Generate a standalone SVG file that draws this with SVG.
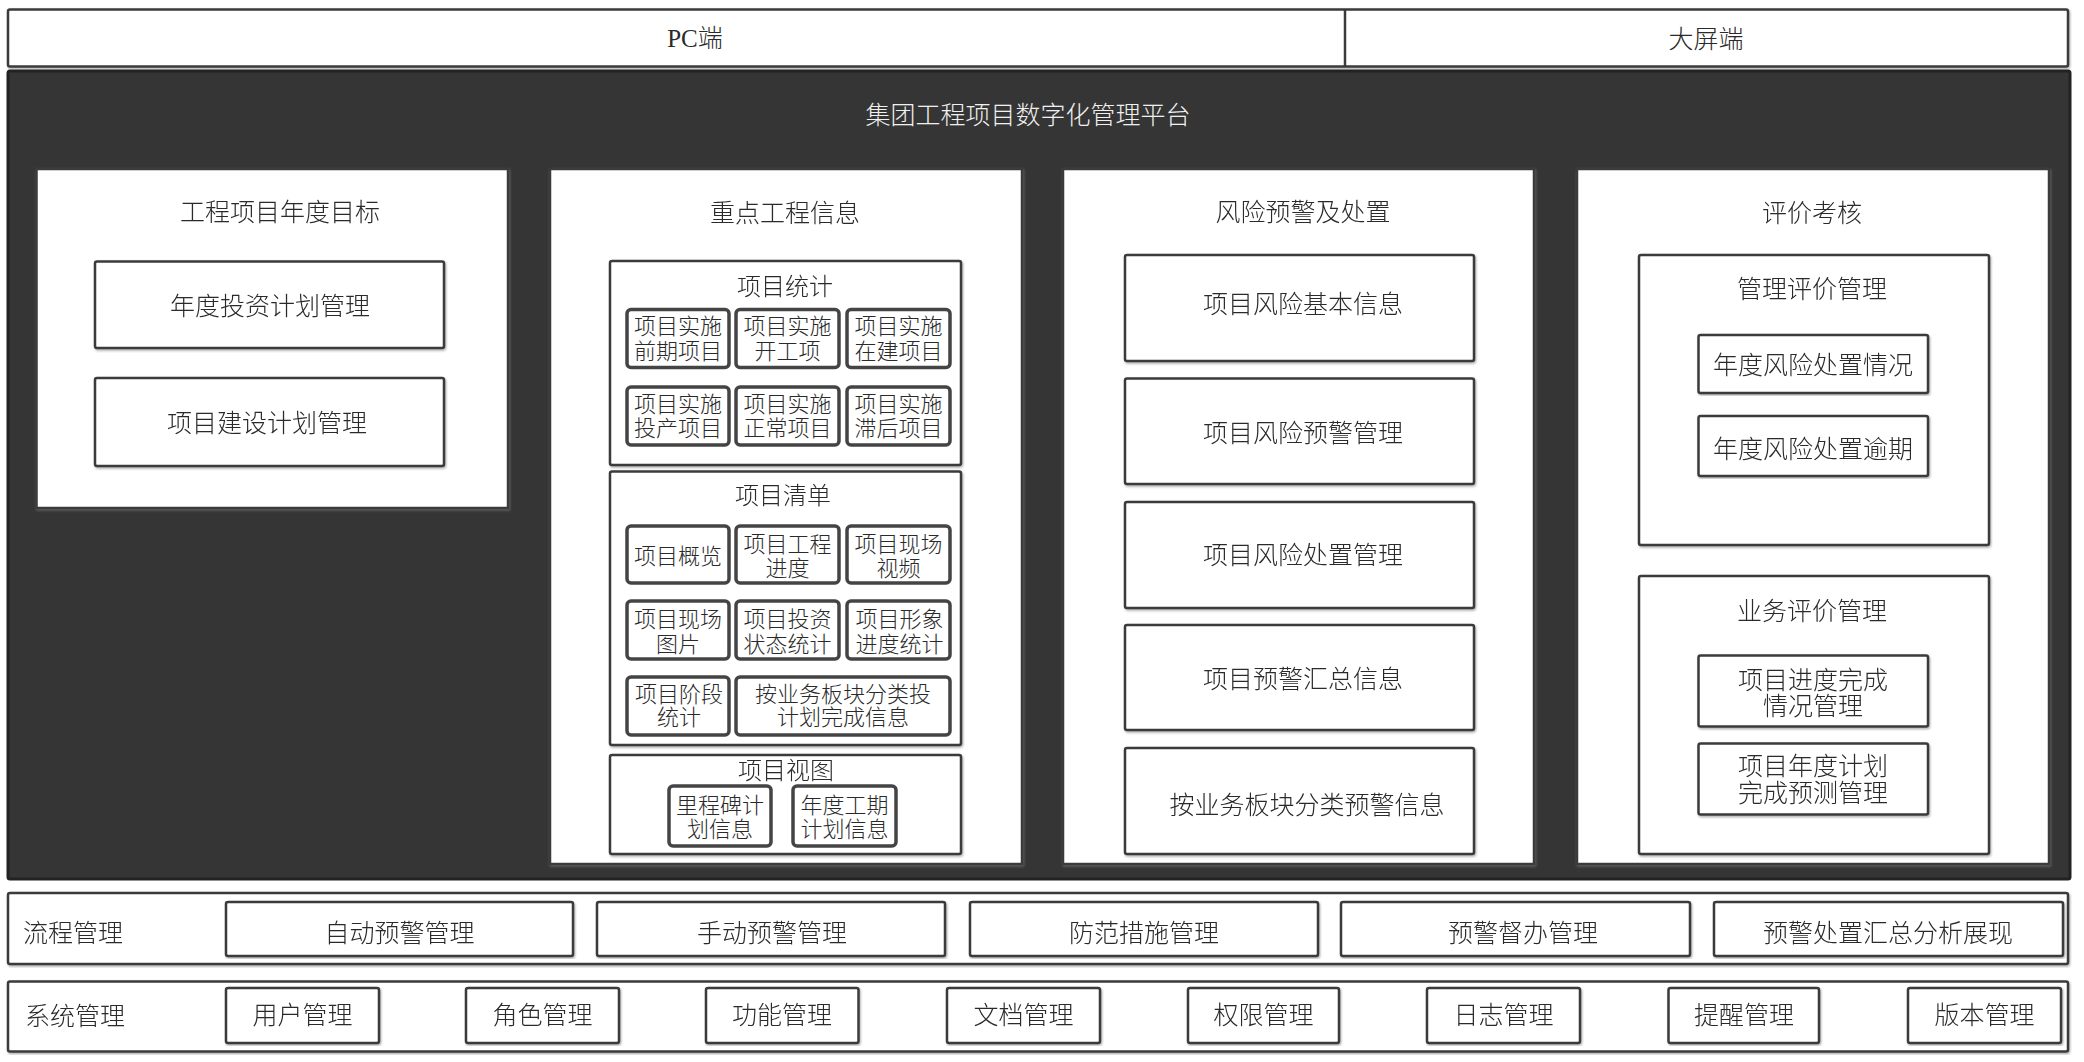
<svg xmlns="http://www.w3.org/2000/svg" width="2084" height="1062" viewBox="0 0 2084 1062">
<style>
.bg{fill:#ffffff}
.box{fill:#ffffff;stroke:#3a3a3a;stroke-width:2.5}
.sm{fill:#ffffff;stroke:#444444;stroke-width:3.5}
.dark{fill:#353535;stroke:#222222;stroke-width:3}
text{font-family:"Liberation Serif","Noto Sans CJK SC",serif;font-weight:300;fill:#2a2a2a;text-anchor:middle;dominant-baseline:central;font-size:25px}
.w{fill:#f0f0f0}
.s{font-size:22px}
.t{font-size:24px}
.l{text-anchor:start}
</style>
<defs>
<filter id="sh" x="-5%" y="-5%" width="110%" height="110%">
<feDropShadow dx="1" dy="1.5" stdDeviation="1" flood-color="#777777" flood-opacity="0.6"/>
</filter>
</defs>
<rect class="bg" x="0" y="0" width="2084" height="1062"/>

<g id="top-bar" filter="url(#sh)">
<rect class="box" x="8" y="9.5" width="2060" height="57" rx="2"/>
<line x1="1345" y1="9.5" x2="1345" y2="66.5" stroke="#3a3a3a" stroke-width="2.5"/>
</g>
<g id="pc"><text x="695" y="38">PC端</text></g>
<g id="bigscreen"><text x="1706" y="39">大屏端</text></g>

<g id="platform">
<rect class="dark" x="8" y="71" width="2062" height="808" rx="2"/>
<text class="w" x="1028" y="115">集团工程项目数字化管理平台</text>
</g>

<g id="col1" filter="url(#sh)">
<rect class="box" x="36.5" y="169" width="471.5" height="339"/>
<text x="280" y="212">工程项目年度目标</text>
</g>
<g id="n-annual-invest" filter="url(#sh)">
<rect class="box" x="95" y="261.5" width="349" height="86.5" rx="2"/>
<text x="270" y="306">年度投资计划管理</text>
</g>
<g id="n-build-plan" filter="url(#sh)">
<rect class="box" x="95" y="378" width="349" height="88" rx="2"/>
<text x="267" y="423">项目建设计划管理</text>
</g>

<g id="col2" filter="url(#sh)">
<rect class="box" x="550" y="169" width="472" height="695"/>
<text x="785" y="213">重点工程信息</text>
</g>

<g id="g-stat" filter="url(#sh)">
<rect class="box" x="610" y="261" width="351" height="204" rx="2"/>
<text class="t" x="785" y="287">项目统计</text>
</g>
<g id="s1"><rect class="sm" x="627" y="309.5" width="102" height="58" rx="4"/><text class="s" x="678" y="326.5">项目实施</text><text class="s" x="678" y="351">前期项目</text></g>
<g id="s2"><rect class="sm" x="736" y="309.5" width="103" height="58" rx="4"/><text class="s" x="787.5" y="326.5">项目实施</text><text class="s" x="787.5" y="351">开工项</text></g>
<g id="s3"><rect class="sm" x="847" y="309.5" width="103" height="58" rx="4"/><text class="s" x="898.5" y="326.5">项目实施</text><text class="s" x="898.5" y="351">在建项目</text></g>
<g id="s4"><rect class="sm" x="627" y="387" width="102" height="58" rx="4"/><text class="s" x="678" y="404">项目实施</text><text class="s" x="678" y="428.5">投产项目</text></g>
<g id="s5"><rect class="sm" x="736" y="387" width="103" height="58" rx="4"/><text class="s" x="787.5" y="404">项目实施</text><text class="s" x="787.5" y="428.5">正常项目</text></g>
<g id="s6"><rect class="sm" x="847" y="387" width="103" height="58" rx="4"/><text class="s" x="898.5" y="404">项目实施</text><text class="s" x="898.5" y="428.5">滞后项目</text></g>

<g id="g-list" filter="url(#sh)">
<rect class="box" x="610" y="471.5" width="351" height="273.5" rx="2"/>
<text class="t" x="783" y="496">项目清单</text>
</g>
<g id="l1"><rect class="sm" x="627" y="526" width="102" height="57" rx="4"/><text class="s" x="678" y="556">项目概览</text></g>
<g id="l2"><rect class="sm" x="736" y="526" width="103" height="57" rx="4"/><text class="s" x="787.5" y="544">项目工程</text><text class="s" x="787.5" y="568.5">进度</text></g>
<g id="l3"><rect class="sm" x="847" y="526" width="103" height="57" rx="4"/><text class="s" x="898.5" y="544">项目现场</text><text class="s" x="898.5" y="568.5">视频</text></g>
<g id="l4"><rect class="sm" x="627" y="601" width="102" height="58" rx="4"/><text class="s" x="678" y="619">项目现场</text><text class="s" x="678" y="644">图片</text></g>
<g id="l5"><rect class="sm" x="736" y="601" width="103" height="58" rx="4"/><text class="s" x="787.5" y="619">项目投资</text><text class="s" x="787.5" y="644">状态统计</text></g>
<g id="l6"><rect class="sm" x="847" y="601" width="103" height="58" rx="4"/><text class="s" x="899.5" y="619">项目形象</text><text class="s" x="899.5" y="644">进度统计</text></g>
<g id="l7"><rect class="sm" x="627" y="677" width="102" height="58" rx="4"/><text class="s" x="679" y="694">项目阶段</text><text class="s" x="679" y="717">统计</text></g>
<g id="l8"><rect class="sm" x="736" y="677" width="214" height="58" rx="4"/><text class="s" x="843" y="694">按业务板块分类投</text><text class="s" x="843" y="717">计划完成信息</text></g>

<g id="g-view" filter="url(#sh)">
<rect class="box" x="610" y="755" width="351" height="99" rx="2"/>
<text class="t" x="786" y="771">项目视图</text>
</g>
<g id="v1"><rect class="sm" x="669" y="786" width="102" height="60" rx="4"/><text class="s" x="720" y="805">里程碑计</text><text class="s" x="720" y="829">划信息</text></g>
<g id="v2"><rect class="sm" x="793" y="786" width="103" height="60" rx="4"/><text class="s" x="844.5" y="805">年度工期</text><text class="s" x="844.5" y="829">计划信息</text></g>

<g id="col3" filter="url(#sh)">
<rect class="box" x="1063" y="169" width="471" height="695"/>
<text x="1303" y="212">风险预警及处置</text>
</g>
<g id="r1" filter="url(#sh)"><rect class="box" x="1125" y="255" width="349" height="106" rx="2"/><text x="1303" y="304">项目风险基本信息</text></g>
<g id="r2" filter="url(#sh)"><rect class="box" x="1125" y="378.5" width="349" height="105.5" rx="2"/><text x="1303" y="433">项目风险预警管理</text></g>
<g id="r3" filter="url(#sh)"><rect class="box" x="1125" y="502" width="349" height="106" rx="2"/><text x="1303" y="555">项目风险处置管理</text></g>
<g id="r4" filter="url(#sh)"><rect class="box" x="1125" y="625" width="349" height="105" rx="2"/><text x="1303" y="679">项目预警汇总信息</text></g>
<g id="r5" filter="url(#sh)"><rect class="box" x="1125" y="748" width="349" height="106" rx="2"/><text x="1307" y="805">按业务板块分类预警信息</text></g>

<g id="col4" filter="url(#sh)">
<rect class="box" x="1577" y="169" width="472" height="695"/>
<text x="1812" y="213">评价考核</text>
</g>
<g id="e-mgmt" filter="url(#sh)">
<rect class="box" x="1639" y="255" width="350" height="290" rx="2"/>
<text x="1812" y="289">管理评价管理</text>
</g>
<g id="e1" filter="url(#sh)"><rect class="box" x="1698.5" y="335" width="229.5" height="58" rx="2"/><text x="1813" y="365">年度风险处置情况</text></g>
<g id="e2" filter="url(#sh)"><rect class="box" x="1698.5" y="416" width="229.5" height="60" rx="2"/><text x="1813" y="449">年度风险处置逾期</text></g>
<g id="e-biz" filter="url(#sh)">
<rect class="box" x="1639" y="576" width="350" height="278" rx="2"/>
<text x="1812" y="611">业务评价管理</text>
</g>
<g id="e3" filter="url(#sh)"><rect class="box" x="1698.5" y="655.5" width="229.5" height="71" rx="2"/><text x="1813" y="680">项目进度完成</text><text x="1813" y="706.5">情况管理</text></g>
<g id="e4" filter="url(#sh)"><rect class="box" x="1698.5" y="743.5" width="229.5" height="71" rx="2"/><text x="1813" y="766.5">项目年度计划</text><text x="1813" y="793.5">完成预测管理</text></g>

<g id="process-row" filter="url(#sh)">
<rect class="box" x="8" y="893" width="2060" height="71" rx="2"/>
<text class="l" x="23" y="933">流程管理</text>
</g>
<g id="p1" filter="url(#sh)"><rect class="box" x="226" y="902" width="347" height="54" rx="2"/><text x="399.5" y="933">自动预警管理</text></g>
<g id="p2" filter="url(#sh)"><rect class="box" x="597" y="902" width="348" height="54" rx="2"/><text x="772" y="933">手动预警管理</text></g>
<g id="p3" filter="url(#sh)"><rect class="box" x="970" y="902" width="348" height="54" rx="2"/><text x="1144" y="933">防范措施管理</text></g>
<g id="p4" filter="url(#sh)"><rect class="box" x="1341" y="902" width="349" height="54" rx="2"/><text x="1523" y="933">预警督办管理</text></g>
<g id="p5" filter="url(#sh)"><rect class="box" x="1714" y="902" width="349" height="54" rx="2"/><text x="1888" y="933">预警处置汇总分析展现</text></g>

<g id="system-row" filter="url(#sh)">
<rect class="box" x="8" y="981.5" width="2060" height="70" rx="2"/>
<text class="l" x="25" y="1016">系统管理</text>
</g>
<g id="m1" filter="url(#sh)"><rect class="box" x="226" y="988" width="153" height="55" rx="2"/><text x="302.5" y="1015">用户管理</text></g>
<g id="m2" filter="url(#sh)"><rect class="box" x="466" y="988" width="153" height="55" rx="2"/><text x="542.5" y="1015">角色管理</text></g>
<g id="m3" filter="url(#sh)"><rect class="box" x="706" y="988" width="152.5" height="55" rx="2"/><text x="782" y="1015">功能管理</text></g>
<g id="m4" filter="url(#sh)"><rect class="box" x="947" y="988" width="153" height="55" rx="2"/><text x="1023.5" y="1015">文档管理</text></g>
<g id="m5" filter="url(#sh)"><rect class="box" x="1188" y="988" width="151" height="55" rx="2"/><text x="1263.5" y="1015">权限管理</text></g>
<g id="m6" filter="url(#sh)"><rect class="box" x="1427" y="988" width="153" height="55" rx="2"/><text x="1503.5" y="1015">日志管理</text></g>
<g id="m7" filter="url(#sh)"><rect class="box" x="1668.5" y="988" width="150.5" height="55" rx="2"/><text x="1744" y="1015">提醒管理</text></g>
<g id="m8" filter="url(#sh)"><rect class="box" x="1908" y="988" width="153" height="55" rx="2"/><text x="1984.5" y="1015">版本管理</text></g>

<g id="connectors"></g>
</svg>
